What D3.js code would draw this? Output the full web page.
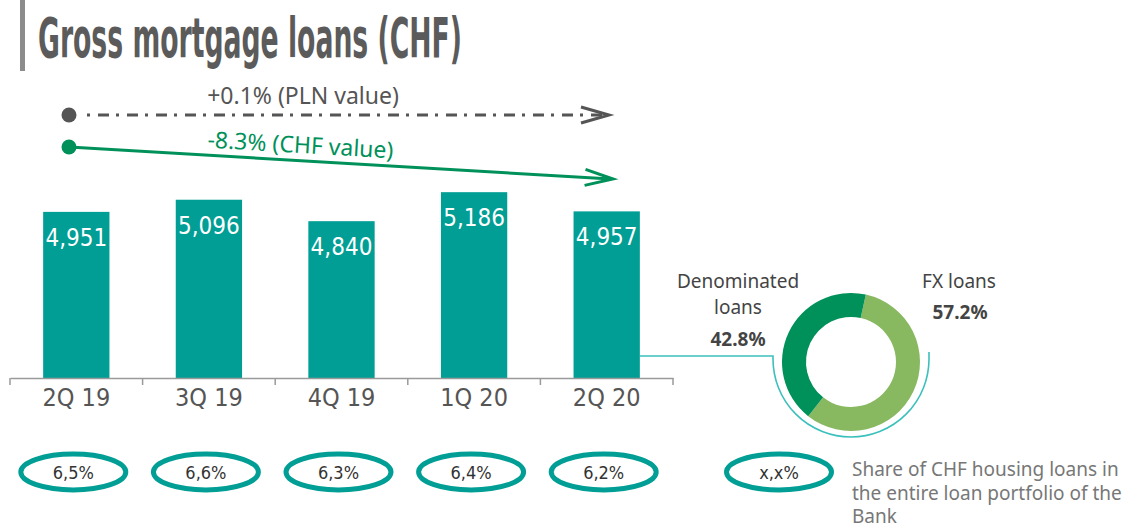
<!DOCTYPE html>
<html>
<head>
<meta charset="utf-8">
<script src="https://cdn.jsdelivr.net/npm/d3@7"></script>
<style>
  html, body { margin: 0; padding: 0; background: #ffffff; }
  svg { display: block; }
</style>
</head>
<body>
<svg id="chart" width="1129" height="528"></svg>
<script>
// ---- data ----
const titleText = "Gross mortgage loans (CHF)";
const categories = ["2Q 19", "3Q 19", "4Q 19", "1Q 20", "2Q 20"];
const loanValues = [4951, 5096, 4840, 5186, 4957];
const valueLabels = ["4,951", "5,096", "4,840", "5,186", "4,957"];
const shareLabels = ["6,5%", "6,6%", "6,3%", "6,4%", "6,2%"];
const shareLegendLabel = "x,x%";
const shareLegendText = ["Share of CHF housing loans in", "the entire loan portfolio of the", "Bank"];
const donutNames = ["FX loans", "Denominated loans"];
const donutValues = [57.2, 42.8];
const donutValueLabels = ["57.2%", "42.8%"];
const trendLabels = ["+0.1% (PLN value)", "-8.3% (CHF value)"];

// ---- styles ----
const TEAL = "#009e94";
const GREEN = "#00915a";
const LIGHTGREEN = "#88b961";
const GRAY = "#555555";
const NARROW = "'Liberation Sans Narrow', 'DejaVu Sans Condensed', 'Arial Narrow', sans-serif";
const HUMAN = "'Noto Sans', 'Open Sans', sans-serif";

const svg = d3.select("#chart");

// ---- title ----
svg.append("rect").attr("x", 20).attr("y", 0).attr("width", 5).attr("height", 71).attr("fill", "#8c8c8c");
svg.append("text").attr("x", 38).attr("y", 57)
  .attr("font-family", NARROW).attr("font-weight", "bold").attr("font-size", 56)
  .attr("fill", "#5b5b5b").attr("textLength", 424).attr("lengthAdjust", "spacingAndGlyphs")
  .text(titleText);

// ---- scales ----
const x = d3.scaleBand().domain(categories).range([10, 673]).paddingInner(0.5).paddingOuter(0.25);
const y = d3.scaleLinear().domain([2970, 5200]).range([378, 191]);

// ---- bars ----
svg.append("g").selectAll("rect").data(categories).join("rect")
  .attr("x", d => x(d)).attr("width", x.bandwidth())
  .attr("y", (d, i) => y(loanValues[i]))
  .attr("height", (d, i) => y.range()[0] - y(loanValues[i]))
  .attr("fill", TEAL);

svg.append("g").selectAll("text").data(categories).join("text")
  .attr("x", d => x(d) + x.bandwidth() / 2)
  .attr("y", (d, i) => y(loanValues[i]) + 34)
  .attr("text-anchor", "middle").attr("font-family", NARROW).attr("font-size", 24)
  .attr("fill", "#ffffff").text((d, i) => valueLabels[i]);

// ---- axis ----
const axis = d3.axisBottom(x).tickSize(0).tickPadding(0).tickSizeOuter(0);
const axisG = svg.append("g").attr("transform", `translate(0,${y.range()[0]})`).call(axis);
axisG.select(".domain").attr("stroke", "#9a9a9a").attr("stroke-width", 1.5);
axisG.selectAll(".tick text").attr("font-family", NARROW).attr("font-size", 25)
  .attr("fill", GRAY).attr("dy", 0).attr("y", 28);
const boundaries = categories.map(c => x(c) - x.step() * x.paddingInner() / 2)
  .concat([x(categories[categories.length - 1]) + x.bandwidth() + x.step() * x.paddingInner() / 2]);
axisG.selectAll("line.sep").data(boundaries).join("line").attr("class", "sep")
  .attr("x1", d => d).attr("x2", d => d).attr("y1", 0).attr("y2", 7)
  .attr("stroke", "#9a9a9a").attr("stroke-width", 1.5);

// ---- trend arrows ----
function arrow(g, x1, y1, x2, y2, color, dash) {
  const lx = dash ? x1 + 18 : x1;
  g.append("line").attr("x1", lx).attr("y1", y1).attr("x2", x2 - 2).attr("y2", y2)
    .attr("stroke", color).attr("stroke-width", 3).attr("stroke-dasharray", dash || null);
  const ang = Math.atan2(y2 - y1, x2 - x1) * 180 / Math.PI;
  g.append("path").attr("d", "M-28,-8 L0,0 L-28,8")
    .attr("transform", `translate(${x2},${y2}) rotate(${ang})`)
    .attr("fill", "none").attr("stroke", color).attr("stroke-width", 3);
  g.append("circle").attr("cx", x1).attr("cy", y1).attr("r", 7.5).attr("fill", color);
}
const tg = svg.append("g");
arrow(tg, 69, 115, 609, 115, GRAY, "3 8 11 7");
arrow(tg, 69, 147, 613, 179, GREEN);
tg.append("text").attr("x", 303).attr("y", 104).attr("text-anchor", "middle")
  .attr("font-family", HUMAN).attr("font-size", 23).attr("fill", GRAY).text(trendLabels[0]);
const slope = Math.atan2(179 - 147, 613 - 69) * 180 / Math.PI;
tg.append("text").attr("text-anchor", "middle")
  .attr("transform", `translate(300,153) rotate(${slope})`)
  .attr("font-family", HUMAN).attr("font-size", 23).attr("fill", GREEN).text(trendLabels[1]);

// ---- connector line & donut ----
const cx = 851, cy = 362, rOuter = 69, rInner = 45, rLink = 78;
const lastRight = x(categories[categories.length - 1]) + x.bandwidth();
svg.append("path")
  .attr("d", `M${lastRight},356 H${cx - rLink} V359 A${rLink},${rLink} 0 0 0 ${cx + rLink},359 V352`)
  .attr("fill", "none").attr("stroke", "#3cc0bb").attr("stroke-width", 1.6);

const pie = d3.pie().sort(null).startAngle(12.4 * Math.PI / 180).endAngle(12.4 * Math.PI / 180 + 2 * Math.PI);
const arc = d3.arc().innerRadius(rInner).outerRadius(rOuter);
svg.append("g").attr("transform", `translate(${cx},${cy})`)
  .selectAll("path").data(pie(donutValues)).join("path")
  .attr("d", arc).attr("fill", (d, i) => [LIGHTGREEN, GREEN][i]);

// donut labels
const dl = svg.append("g").attr("font-family", HUMAN).attr("text-anchor", "middle");
dl.append("text").attr("x", 738).attr("y", 288).attr("font-size", 19).attr("fill", "#444").text(donutNames[1].split(" ")[0]);
dl.append("text").attr("x", 738).attr("y", 314).attr("font-size", 19).attr("fill", "#444").text(donutNames[1].split(" ")[1]);
dl.append("text").attr("x", 738).attr("y", 346).attr("font-size", 19).attr("font-weight", "bold").attr("fill", "#444").text(donutValueLabels[1]);
dl.append("text").attr("x", 959).attr("y", 288).attr("font-size", 19).attr("fill", "#444").text(donutNames[0]);
dl.append("text").attr("x", 960).attr("y", 319).attr("font-size", 19).attr("font-weight", "bold").attr("fill", "#444").text(donutValueLabels[0]);

// ---- share ellipses ----
const eg = svg.append("g");
function ellipse(g, ex, label) {
  g.append("ellipse").attr("cx", ex).attr("cy", 472).attr("rx", 52.5).attr("ry", 18)
    .attr("fill", "none").attr("stroke", TEAL).attr("stroke-width", 5);
  g.append("text").attr("x", ex).attr("y", 478.5).attr("text-anchor", "middle")
    .attr("font-family", NARROW).attr("font-size", 18).attr("fill", "#333").text(label);
}
categories.forEach((c, i) => ellipse(eg, x(c) + x.bandwidth() / 2 - 3, shareLabels[i]));
ellipse(eg, 779, shareLegendLabel);
svg.append("g").selectAll("text").data(shareLegendText).join("text")
  .attr("x", 852).attr("y", (d, i) => 476 + i * 23.5)
  .attr("font-family", HUMAN).attr("font-size", 19).attr("fill", "#777").text(d => d);
</script>
</body>
</html>
